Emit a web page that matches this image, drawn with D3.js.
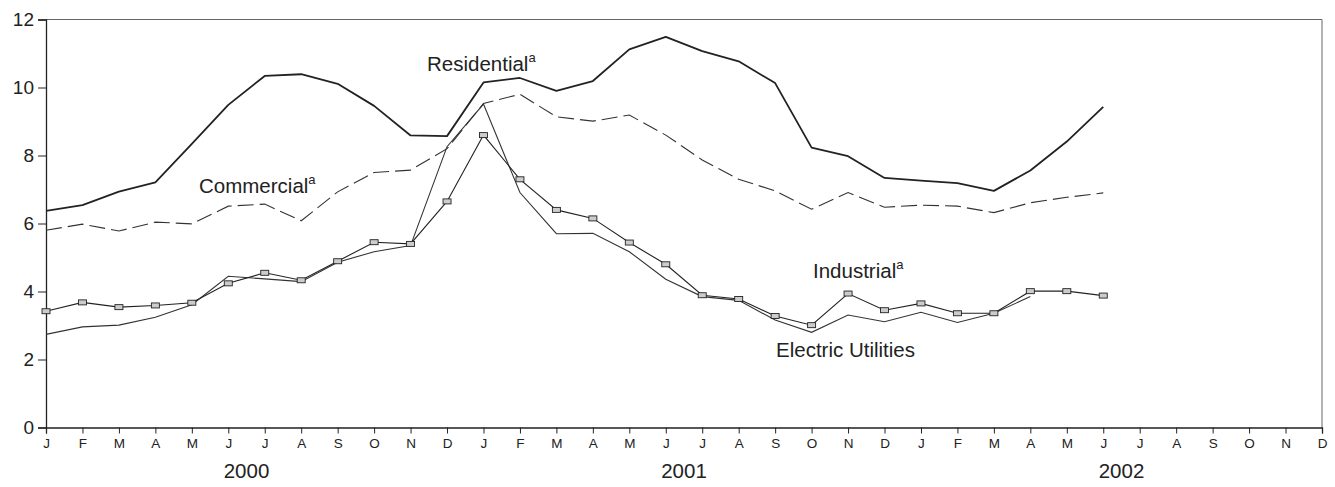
<!DOCTYPE html>
<html>
<head>
<meta charset="utf-8">
<script src="https://cdn.jsdelivr.net/npm/d3@7"></script>
<style>
  html, body { margin: 0; padding: 0; background: #fff; }
  svg { display: block; }
  text { font-family: "Liberation Sans", Arial, Helvetica, sans-serif; fill: #222; }
</style>
</head>
<body>
<svg id="chart" width="1335" height="487"></svg>
<script>
// ---- data ----
const monthLabels = ["J","F","M","A","M","J","J","A","S","O","N","D",
                     "J","F","M","A","M","J","J","A","S","O","N","D",
                     "J","F","M","A","M","J","J","A","S","O","N","D"];
const years = ["2000", "2001", "2002"];
const yTicks = [0, 2, 4, 6, 8, 10, 12];

const residential = [6.37, 6.54, 6.94, 7.21, 8.34, 9.49, 10.34, 10.39, 10.11, 9.46, 8.59, 8.57,
                     10.15, 10.28, 9.90, 10.19, 11.12, 11.49, 11.07, 10.77, 10.13, 8.23, 7.98, 7.34,
                     7.26, 7.19, 6.96, 7.56, 8.41, 9.43];
const commercial  = [5.80, 5.98, 5.78, 6.04, 5.99, 6.51, 6.57, 6.08, 6.93, 7.50, 7.57, 8.20,
                     9.53, 9.80, 9.14, 9.01, 9.19, 8.60, 7.87, 7.30, 6.96, 6.42, 6.91, 6.48,
                     6.54, 6.51, 6.32, 6.61, 6.77, 6.90];
const industrial  = [3.42, 3.68, 3.54, 3.59, 3.67, 4.24, 4.55, 4.33, 4.89, 5.45, 5.40, 6.65,
                     8.60, 7.30, 6.40, 6.15, 5.44, 4.80, 3.89, 3.78, 3.28, 3.01, 3.94, 3.45,
                     3.65, 3.36, 3.36, 4.01, 4.01, 3.88];
const electric    = [2.74, 2.96, 3.01, 3.24, 3.61, 4.45, 4.37, 4.29, 4.86, 5.17, 5.35, 8.26,
                     9.51, 6.91, 5.70, 5.71, 5.17, 4.36, 3.85, 3.74, 3.16, 2.80, 3.31, 3.11,
                     3.39, 3.09, 3.36, 3.85];

// ---- layout ----
const mLeft = 46, mRight = 1322, mTop = 19.5, mBottom = 427.5;
const svg = d3.select("#chart");

const x = d3.scaleLinear().domain([0, 35]).range([mLeft, mRight]);
const y = d3.scaleLinear().domain([0, 12]).range([mBottom, mTop]);

// frame: top & right border
svg.append("line").attr("x1", mLeft).attr("x2", mRight).attr("y1", mTop).attr("y2", mTop)
  .attr("stroke", "#666").attr("stroke-width", 1);
svg.append("line").attr("x1", mRight).attr("x2", mRight).attr("y1", mTop).attr("y2", mBottom)
  .attr("stroke", "#666").attr("stroke-width", 1);

// y axis
const yAxis = d3.axisLeft(y).tickValues(yTicks).tickSize(8).tickPadding(4).tickFormat(d3.format("d"));
const gy = svg.append("g").attr("transform", `translate(${mLeft},0)`).call(yAxis);
gy.select(".domain").attr("stroke", "#222").attr("stroke-width", 1.3);
gy.selectAll(".tick line").attr("stroke", "#222");
gy.selectAll(".tick text").attr("font-size", 19).attr("font-family", "Liberation Sans, Arial, sans-serif").attr("fill", "#222");

// x axis
const xAxis = d3.axisBottom(x).tickValues(d3.range(36)).tickSize(6).tickPadding(5)
  .tickFormat(i => monthLabels[i]);
const gx = svg.append("g").attr("transform", `translate(0,${mBottom})`).call(xAxis);
gx.select(".domain").attr("stroke", "#222").attr("stroke-width", 1.3);
gx.selectAll(".tick line").attr("stroke", "#222");
gx.selectAll(".tick text").attr("font-size", 13.5).attr("font-family", "Liberation Sans, Arial, sans-serif").attr("fill", "#222");

// year labels
svg.selectAll("text.year").data(years).enter().append("text")
  .attr("class", "year")
  .attr("x", (d, i) => x(i * 12 + 5.5))
  .attr("y", 478)
  .attr("text-anchor", "middle")
  .attr("font-size", 20.5)
  .text(d => d);

// lines
const line = d3.line().x((d, i) => x(i)).y(d => y(d));

svg.append("path").datum(commercial).attr("d", line)
  .attr("fill", "none").attr("stroke", "#333").attr("stroke-width", 1.1)
  .attr("stroke-dasharray", "16,6");

svg.append("path").datum(electric).attr("d", line)
  .attr("fill", "none").attr("stroke", "#333").attr("stroke-width", 1.1);

svg.append("path").datum(industrial).attr("d", line)
  .attr("fill", "none").attr("stroke", "#222").attr("stroke-width", 1.1);

svg.append("path").datum(residential).attr("d", line)
  .attr("fill", "none").attr("stroke", "#222").attr("stroke-width", 1.8)
  .attr("stroke-linejoin", "round");

// industrial markers
svg.selectAll("rect.mk").data(industrial).enter().append("rect")
  .attr("class", "mk")
  .attr("x", (d, i) => x(i) - 4)
  .attr("y", d => y(d) - 2.5)
  .attr("width", 8).attr("height", 5)
  .attr("fill", "#ccc").attr("stroke", "#222").attr("stroke-width", 0.9);

// series labels
function label(txt, lx, ly) {
  const t = svg.append("text").attr("x", lx).attr("y", ly).attr("font-size", 20.5);
  t.append("tspan").text(txt);
  t.append("tspan").attr("font-size", 13).attr("dy", -9).text("a");
  return t;
}
label("Residential", 427, 71);
label("Commercial", 199, 193);
label("Industrial", 813, 278);
svg.append("text").attr("x", 776).attr("y", 357).attr("font-size", 20.5).text("Electric Utilities");
</script>
</body>
</html>
